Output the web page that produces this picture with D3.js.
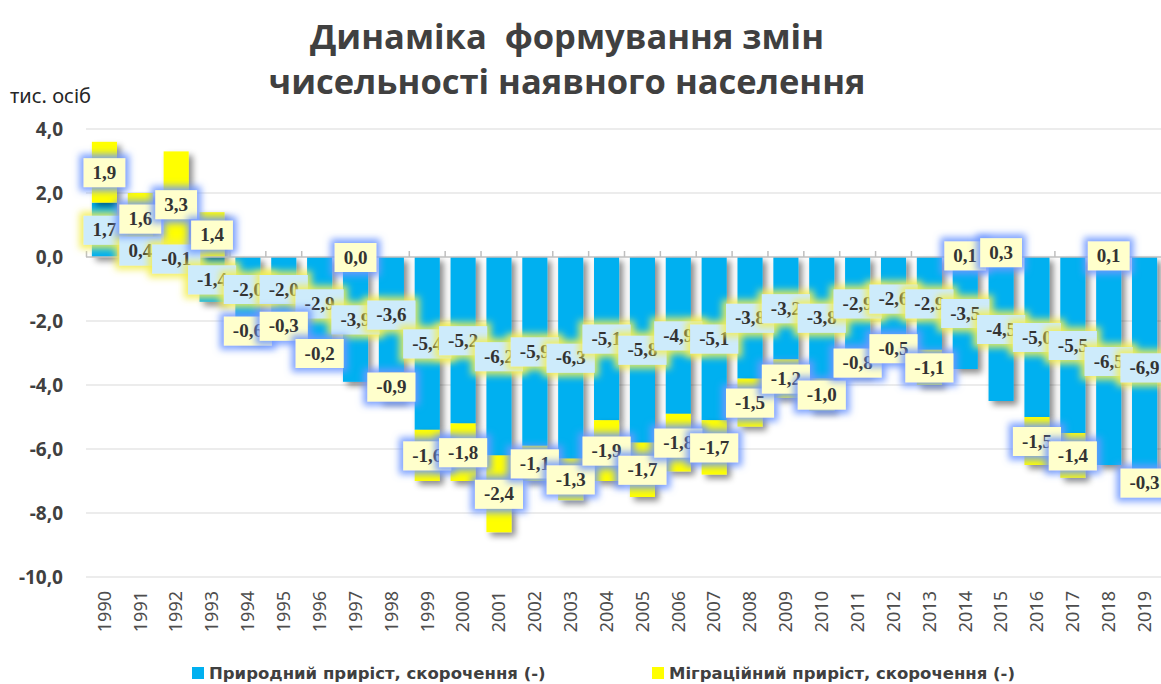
<!DOCTYPE html>
<html>
<head>
<meta charset="utf-8">
<script src="https://cdnjs.cloudflare.com/ajax/libs/d3/7.8.5/d3.min.js"></script>
<style>
  body { margin: 0; background: #fff; }
  svg { display: block; }
</style>
</head>
<body>
<div id="chart"></div>
<script>
// data
let years = [1990, 1991, 1992, 1993, 1994, 1995, 1996, 1997, 1998, 1999,
  2000, 2001, 2002, 2003, 2004, 2005, 2006, 2007, 2008, 2009,
  2010, 2011, 2012, 2013, 2014, 2015, 2016, 2017, 2018, 2019];
let natural = [1.7, 0.4, -0.1, -1.4, -2.0, -2.0, -2.9, -3.9, -3.6, -5.4,
  -5.2, -6.2, -5.9, -6.3, -5.1, -5.8, -4.9, -5.1, -3.8, -3.2,
  -3.8, -2.9, -2.6, -2.9, -3.5, -4.5, -5.0, -5.5, -6.5, -6.9];
let migration = [1.9, 1.6, 3.3, 1.4, -0.6, -0.3, -0.2, 0.0, -0.9, -1.6,
  -1.8, -2.4, -1.1, -1.3, -1.9, -1.7, -1.8, -1.7, -1.5, -1.2,
  -1.0, -0.8, -0.5, -1.1, 0.1, 0.3, -1.5, -1.4, 0.1, -0.3];
let yTicks = [4, 2, 0, -2, -4, -6, -8, -10];
let seriesNames = ["Природний приріст, скорочення (-)", "Міграційний приріст, скорочення (-)"];

let svgWidth = 1161;
let svgHeight = 684;

let fmt = v => d3.format(".1f")(v).replace(".", ",").replace("−", "-");

let svg = d3.select("#chart")
  .append("svg")
  .attr("width", svgWidth)
  .attr("height", svgHeight);

// filters: bar shadow and the two label glows
let defs = svg.append("defs");

let shadow = defs.append("filter").attr("id", "shadow")
  .attr("x", "-30%").attr("y", "-30%").attr("width", "180%").attr("height", "180%");
shadow.append("feDropShadow")
  .attr("dx", 4).attr("dy", 4).attr("stdDeviation", 3)
  .attr("flood-color", "#000").attr("flood-opacity", 0.45);

function glow(id, color) {
  let f = defs.append("filter").attr("id", id)
    .attr("x", "-50%").attr("y", "-80%").attr("width", "200%").attr("height", "260%");
  f.append("feMorphology").attr("in", "SourceAlpha").attr("operator", "dilate")
    .attr("radius", 4).attr("result", "d");
  f.append("feGaussianBlur").attr("in", "d").attr("stdDeviation", 3.5).attr("result", "b");
  f.append("feFlood").attr("flood-color", color).attr("flood-opacity", 0.9);
  f.append("feComposite").attr("in2", "b").attr("operator", "in").attr("result", "g");
  let m = f.append("feMerge");
  m.append("feMergeNode").attr("in", "g");
  m.append("feMergeNode").attr("in", "SourceGraphic");
}
glow("glowYellow", "#f2ee55");
glow("glowBlue", "#6f98ff");

let table = years.map((y, i) => ({ year: y, natural: natural[i], migration: migration[i] }));

let stacked = d3.stack()
  .keys(["natural", "migration"])
  .offset(d3.stackOffsetDiverging)(table);

let x = d3.scaleBand()
  .domain(years)
  .range([86.5, 1162.5])
  .paddingInner(0.3)
  .paddingOuter(0.15);

let y = d3.scaleLinear()
  .domain([-10, 4])
  .range([577, 129]);

// gridlines
svg.append("g")
  .selectAll("line")
  .data(yTicks.filter(t => t !== 0))
  .enter()
  .append("line")
  .attr("x1", 86).attr("x2", svgWidth)
  .attr("y1", d => y(d)).attr("y2", d => y(d))
  .attr("stroke", "#d9d9d9").attr("stroke-width", 1);

// y axis labels
let yAxis = d3.axisLeft(y).tickValues(yTicks).tickFormat(fmt).tickSize(0).tickPadding(0);
let yg = svg.append("g")
  .attr("transform", "translate(63,0)")
  .call(yAxis);
yg.select(".domain").remove();
yg.selectAll("text")
  .attr("font-family", "'Noto Sans', sans-serif")
  .attr("font-size", 19)
  .attr("font-weight", "bold")
  .attr("fill", "#404040");

svg.append("text")
  .attr("x", 10).attr("y", 103)
  .attr("font-family", "'Noto Sans', sans-serif")
  .attr("font-size", 20)
  .attr("fill", "#262626")
  .text("тис. осіб");

// bars
let colors = { natural: "#00b0f0", migration: "#ffff00" };

let layers = svg.append("g")
  .selectAll("g")
  .data(stacked)
  .enter()
  .append("g")
  .attr("fill", d => colors[d.key])
  .attr("filter", "url(#shadow)");

layers.selectAll("rect")
  .data(d => d)
  .enter()
  .append("rect")
  .attr("x", d => x(d.data.year))
  .attr("width", x.bandwidth())
  .attr("y", d => y(Math.max(d[0], d[1])))
  .attr("height", d => Math.abs(y(d[0]) - y(d[1])));

// zero axis
let x0 = y(0);
svg.append("line")
  .attr("x1", 86).attr("x2", svgWidth)
  .attr("y1", x0).attr("y2", x0)
  .attr("stroke", "#bfbfbf").attr("stroke-width", 1.5);
svg.append("g")
  .selectAll("line")
  .data(years)
  .enter()
  .append("line")
  .attr("x1", d => x(d) - x.step() * x.paddingInner() / 2)
  .attr("x2", d => x(d) - x.step() * x.paddingInner() / 2)
  .attr("y1", x0).attr("y2", x0 - 6)
  .attr("stroke", "#bfbfbf").attr("stroke-width", 1.5);

// year labels
svg.append("g")
  .selectAll("text")
  .data(years)
  .enter()
  .append("text")
  .attr("transform", d => `translate(${x(d) + x.bandwidth() / 2}, 591) rotate(-90)`)
  .attr("text-anchor", "end")
  .attr("dy", "0.35em")
  .attr("font-family", "'Noto Sans', sans-serif")
  .attr("font-size", 18)
  .attr("fill", "#4d4d4d")
  .text(d => d);

// data labels
let boxFill = { natural: "#cdebfb", migration: "#ffffcc" };
let boxGlow = { natural: "url(#glowYellow)", migration: "url(#glowBlue)" };

stacked.forEach(layer => {
  let g = svg.append("g");
  layer.forEach(d => {
    let v = d.data[layer.key];
    let cy = v === 0 ? y(d[0]) : y((d[0] + d[1]) / 2);
    let cx = x(d.data.year) + x.bandwidth() / 2;
    let lg = g.append("g").attr("transform", `translate(${cx}, ${cy})`);
    let box = lg.append("rect")
      .attr("fill", boxFill[layer.key])
      .attr("filter", boxGlow[layer.key]);
    let t = lg.append("text")
      .attr("text-anchor", "middle")
      .attr("dy", "0.35em")
      .attr("font-family", "'Liberation Serif', serif")
      .attr("font-size", 19)
      .attr("font-weight", "bold")
      .attr("fill", "#333")
      .text(fmt(v));
    let w = t.node().getComputedTextLength() + 18;
    box.attr("x", -w / 2).attr("y", -14).attr("width", w).attr("height", 29);
  });
});

// title
let title = svg.append("text")
  .attr("text-anchor", "middle")
  .attr("font-family", "'Open Sans', sans-serif")
  .attr("font-size", 34.5)
  .attr("font-weight", "bold")
  .attr("fill", "#404040");
title.append("tspan").attr("x", 567).attr("y", 49).attr("xml:space", "preserve").text("Динаміка  формування змін");
title.append("tspan").attr("x", 567).attr("y", 94).text("чисельності наявного населення");

// legend
let legend = svg.append("g");
let legendPos = [192, 652];
seriesNames.forEach((name, i) => {
  legend.append("rect")
    .attr("x", legendPos[i]).attr("y", 667)
    .attr("width", 12).attr("height", 12)
    .attr("fill", i === 0 ? colors.natural : colors.migration);
  legend.append("text")
    .attr("x", legendPos[i] + 17).attr("y", 679)
    .attr("font-family", "'DejaVu Sans', sans-serif")
    .attr("font-size", 16.5)
    .attr("font-weight", "bold")
    .attr("fill", "#404040")
    .text(name);
});
</script>
</body>
</html>
